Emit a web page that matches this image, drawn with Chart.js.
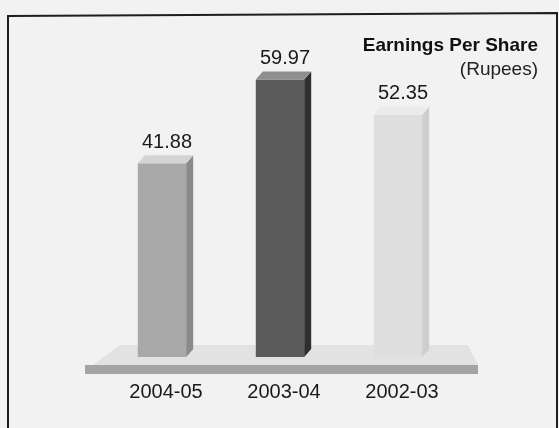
<!DOCTYPE html>
<html>
<head>
<meta charset="utf-8">
<script src="https://cdn.jsdelivr.net/npm/chart.js@4/dist/chart.umd.min.js"></script>
<style>
html, body { margin: 0; padding: 0; background: #f2f2f2; }
</style>
</head>
<body>
<canvas id="eps-chart" width="559" height="428"></canvas>
<script>
let years = ['2004-05', '2003-04', '2002-03']
let epsValues = [41.88, 59.97, 52.35]

// face colours for the fake 3d bars
let frontColors = ['#a9a9a9', '#5b5b5b', '#dedede']
let sideColors = ['#8a8a8a', '#2f2f2f', '#cecece']
let topColors = ['#d4d4d4', '#8e8e8e', '#ebebeb']

let depthX = 7
let depthY = 8
let fontFamily = '"Liberation Sans", Arial, sans-serif'

let boxes3d = {
  id: 'boxes3d',
  beforeDraw(chart) {
    let ctx = chart.ctx
    ctx.save()
    ctx.fillStyle = '#f2f2f2'
    ctx.fillRect(0, 0, chart.width, chart.height)
    // scanned frame round the chart
    ctx.strokeStyle = '#1e1e1e'
    ctx.lineWidth = 2
    ctx.beginPath()
    ctx.moveTo(8, chart.height)
    ctx.lineTo(8, 16)
    ctx.lineTo(557, 13)
    ctx.lineTo(557, chart.height)
    ctx.stroke()
    ctx.restore()
  },
  beforeDatasetsDraw(chart) {
    let ctx = chart.ctx
    let a = chart.chartArea
    ctx.save()
    // floor of the box chart
    ctx.fillStyle = '#e2e2e2'
    ctx.beginPath()
    ctx.moveTo(a.left + 17, a.bottom - 12)
    ctx.lineTo(a.right + 11, a.bottom - 12)
    ctx.lineTo(a.right + 21, a.bottom + 8)
    ctx.lineTo(a.left - 10, a.bottom + 8)
    ctx.closePath()
    ctx.fill()
    ctx.fillStyle = '#a4a4a4'
    ctx.fillRect(a.left - 18, a.bottom + 8, a.right - a.left + 39, 9)
    ctx.restore()
  },
  afterDatasetsDraw(chart) {
    let ctx = chart.ctx
    let meta = chart.getDatasetMeta(0)
    ctx.save()
    meta.data.forEach(function (bar, i) {
      let left = bar.x - bar.width / 2
      let right = bar.x + bar.width / 2
      let top = bar.y
      let bottom = bar.base
      // side face
      ctx.fillStyle = sideColors[i]
      ctx.beginPath()
      ctx.moveTo(right, top)
      ctx.lineTo(right + depthX, top - depthY)
      ctx.lineTo(right + depthX, bottom - depthY)
      ctx.lineTo(right, bottom)
      ctx.closePath()
      ctx.fill()
      // top face
      ctx.fillStyle = topColors[i]
      ctx.beginPath()
      ctx.moveTo(left, top)
      ctx.lineTo(left + depthX, top - depthY)
      ctx.lineTo(right + depthX, top - depthY)
      ctx.lineTo(right, top)
      ctx.closePath()
      ctx.fill()
      // value label
      ctx.fillStyle = '#1a1a1a'
      ctx.font = '20px ' + fontFamily
      ctx.textAlign = 'center'
      ctx.textBaseline = 'middle'
      ctx.fillText(epsValues[i].toFixed(2), bar.x + 5, top - 21)
    })
    ctx.restore()
  }
}

new Chart(document.getElementById('eps-chart'), {
  type: 'bar',
  data: {
    labels: years,
    datasets: [{
      data: epsValues,
      backgroundColor: frontColors,
      borderWidth: 0,
      categoryPercentage: 1,
      barPercentage: 0.41,
      clip: false
    }]
  },
  options: {
    responsive: false,
    animation: false,
    devicePixelRatio: 1,
    layout: { padding: { top: 15, left: 8, right: 21, bottom: 1 } },
    plugins: {
      legend: { display: false },
      tooltip: { enabled: false },
      title: {
        display: true,
        text: 'Earnings Per Share',
        align: 'end',
        color: '#111',
        font: { family: fontFamily, size: 19, weight: 'bold' },
        padding: { top: 19, bottom: 0 }
      },
      subtitle: {
        display: true,
        text: '(Rupees)',
        align: 'end',
        color: '#222',
        font: { family: fontFamily, size: 19 },
        padding: { top: 2, bottom: 0 }
      }
    },
    scales: {
      x: {
        grid: { display: false, drawTicks: false },
        border: { display: false },
        ticks: {
          color: '#1a1a1a',
          font: { family: fontFamily, size: 20 },
          padding: 23,
          labelOffset: 4
        }
      },
      y: {
        min: 0,
        max: 59.5,
        grid: { display: false, drawTicks: false },
        border: { display: false },
        ticks: { display: false },
        afterFit: function (scale) { scale.width = 95 }
      },
      y2: {
        position: 'right',
        grid: { display: false, drawTicks: false },
        border: { display: false },
        ticks: { display: false },
        afterFit: function (scale) { scale.width = 81 }
      }
    }
  },
  plugins: [boxes3d]
})
</script>
</body>
</html>
